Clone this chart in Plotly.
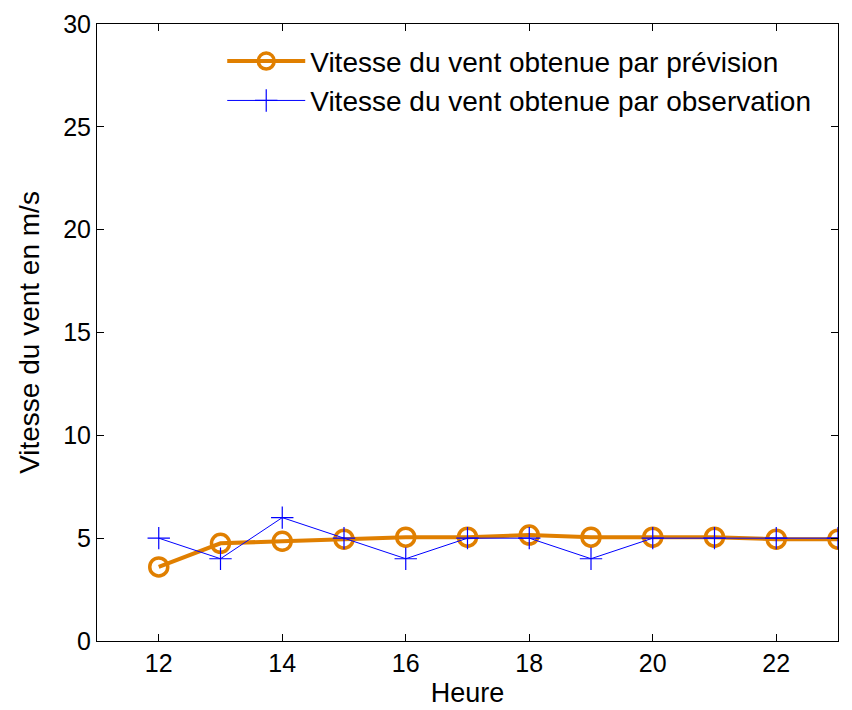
import plotly.graph_objects as go

heures = [12, 13, 14, 15, 16, 17, 18, 19, 20, 21, 22, 23]
vent_prevision = [3.6, 4.75, 4.85, 4.95, 5.05, 5.05, 5.15, 5.05, 5.05, 5.05, 4.95, 4.95]
vent_observation = [5, 4, 6, 5, 4, 5, 5, 4, 5, 5, 5, 5]

x_ticks = [12, 14, 16, 18, 20, 22]
y_ticks = [0, 5, 10, 15, 20, 25, 30]

orange = "#E07F00"
bleu = "#0000FF"
police = "Liberation Sans, Arial"

fig = go.Figure()
fig.add_trace(go.Scatter(
    x=heures, y=vent_prevision, mode="lines+markers",
    name="Vitesse du vent obtenue par prévision",
    line=dict(color=orange, width=4),
    marker=dict(symbol="circle-open", size=18, color=orange, line=dict(width=3.5, color=orange)),
))
fig.add_trace(go.Scatter(
    x=heures, y=vent_observation, mode="lines+markers",
    name="Vitesse du vent obtenue par observation",
    line=dict(color=bleu, width=1),
    marker=dict(symbol="cross-thin-open", size=16, color=bleu, line=dict(width=1.2, color=bleu)),
))

axis_common = dict(
    showgrid=False, zeroline=False, showline=True, mirror="ticks",
    linecolor="black", linewidth=1, ticks="inside", ticklen=7,
    tickcolor="black", tickfont=dict(family=police, size=25, color="black"),
    automargin=False,
)

fig.update_layout(
    width=852, height=710,
    margin=dict(l=97, r=14, t=24, b=69),
    paper_bgcolor="white", plot_bgcolor="white",
    font=dict(family=police, color="black"),
    xaxis=dict(range=[11, 23], tickvals=x_ticks,
               title=dict(text="Heure", font=dict(size=27), standoff=7), **axis_common),
    yaxis=dict(range=[0, 30], tickvals=y_ticks,
               title=dict(text="Vitesse du vent en m/s", font=dict(size=28), standoff=15), **axis_common),
    legend=dict(x=0.169, y=0.98, xanchor="left", yanchor="top",
                bgcolor="rgba(255,255,255,0)", borderwidth=0,
                font=dict(size=28, family=police),
                itemwidth=78, tracegroupgap=0),
    showlegend=True,
)

fig.write_html("out.html")
